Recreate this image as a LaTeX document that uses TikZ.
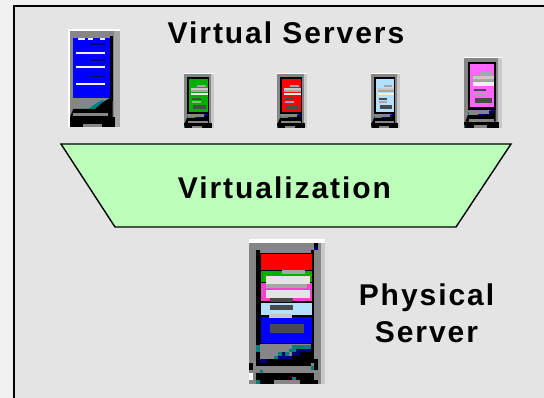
\documentclass[tikz,border=0pt]{standalone}
\usepackage{fontspec}
\setmainfont{Liberation Sans}[Scale=1]
\definecolor{panel}{HTML}{E4E4E4}
\definecolor{margin}{HTML}{F0F0F0}
\definecolor{trap}{HTML}{BBFFBB}
\definecolor{srvgray}{HTML}{868686}
\definecolor{srvlight}{HTML}{C8C8C8}
\definecolor{srvbar}{HTML}{A6A6A6}
\definecolor{srvdark}{HTML}{4A4A4A}
\definecolor{srvteal}{HTML}{007F7F}
\definecolor{srvnavy}{HTML}{00007F}
\definecolor{sgreen}{HTML}{00B000}
\definecolor{sblue}{HTML}{B4E0FF}
\definecolor{spink}{HTML}{FF66FF}
\definecolor{ppink}{HTML}{FF40C8}
\tikzset{
  x=1pt,y=-1pt,
  lbl/.style={font=\fontsize{30}{37}\selectfont\bfseries\addfontfeature{LetterSpace=6.5},text=black,align=center,inner sep=0pt},
}
\newcommand{\zr}[5]{\fill[#5] (#1,#2) rectangle (#3,#4);}
% small server, template 90 x 164 (3x reference pixels): #1 x, #2 y, #3 scale x, #4 scale y, #5 screen colour
\newcommand{\smallsrv}[5]{%
\begin{scope}[shift={(#1,#2)},x=#3pt,y=-#4pt]
\zr{0}{0}{90}{3}{white}
\zr{0}{3}{80}{164}{srvgray}
\zr{80}{3}{90}{164}{srvlight}
\zr{9}{12}{75}{122}{black}
\zr{15}{17}{72}{116}{#5}
\zr{39}{35}{66}{41}{srvbar}
\zr{21}{44}{72}{50}{srvlight}
\zr{21}{50}{72}{56}{srvbar}
\zr{21}{59}{72}{67}{margin}
\zr{24}{74}{51}{80}{srvdark}
\zr{24}{83}{51}{89}{srvbar}
\zr{27}{95}{66}{107}{srvdark}
\fill[black] (75,122) -- (75,150) -- (3,150) -- (9,135) -- (45,135) -- (72,122) -- cycle;
\fill[srvnavy] (30,135) -- (48,128) -- (72,122) -- (72,128) -- (45,137) -- cycle;
\zr{12}{122}{60}{133}{srvgray}
\zr{12}{143}{72}{150}{srvgray}
\zr{0}{150}{84}{158}{black}
\zr{0}{158}{24}{164}{black}
\zr{24}{158}{55}{164}{srvgray}
\zr{55}{158}{84}{164}{black}
\zr{9}{128}{12}{135}{srvteal}
\zr{0}{158}{3}{164}{srvteal}
\end{scope}}
\begin{document}
\begin{tikzpicture}
\useasboundingbox (0,0) rectangle (544,398);
\fill[margin] (0,0) rectangle (544,398);
\fill[panel] (13.5,6.5) rectangle (544,398);
\draw[black,line width=2pt] (13.5,398) -- (13.5,6.5) -- (544,6.5);
\node[lbl] (vs) at (286,33) {Virtual Servers};
\draw[fill=trap,draw=black,line width=1.4pt,line join=miter] (61,144) -- (511,144) -- (456,227) -- (115,227) -- cycle;
\node[lbl] (virt) at (284.5,188) {Virtualization};
\node[lbl] (ps) at (426.5,313) {Physical\\Server};
% small servers
\smallsrv{184}{73}{0.3333}{0.3333}{sgreen}
\smallsrv{277}{73}{0.3333}{0.3333}{red}
\smallsrv{371}{73}{0.3222}{0.3333}{sblue}
\smallsrv{464}{57}{0.4222}{0.4309}{spink}
% big blue server
\begin{scope}[shift={(68.3,29)},x=0.3333pt,y=-0.3333pt]
\zr{0}{0}{155}{293}{white}
\zr{6}{6}{138}{293}{srvgray}
\zr{138}{6}{155}{293}{srvbar}
\zr{13}{27}{125}{207}{blue}
\zr{125}{22}{133}{215}{black}
\zr{30}{28}{50}{34}{margin}
\zr{60}{28}{75}{34}{margin}
\zr{95}{28}{110}{34}{margin}
\zr{22}{70}{110}{76}{margin}
\zr{22}{112}{110}{118}{margin}
\zr{22}{162}{110}{168}{margin}
\zr{65}{43}{110}{48}{srvnavy}
\zr{68}{90}{110}{96}{srvnavy}
\zr{68}{140}{110}{145}{srvnavy}
\fill[black] (133,207) -- (133,265) -- (5,265) -- (15,240) -- (70,240) -- (125,207) -- cycle;
\zr{15}{207}{85}{232}{srvgray}
\fill[srvteal] (60,240) -- (85,222) -- (105,212) -- (105,218) -- (80,240) -- cycle;
\zr{5}{265}{140}{285}{black}
\zr{15}{252}{120}{262}{srvgray}
\zr{5}{285}{45}{293}{black}
\zr{100}{285}{140}{293}{black}
\end{scope}
% physical server
\begin{scope}[shift={(235,235)},x=0.3333pt,y=-0.3333pt]
\zr{42}{12}{270}{24}{white}
\zr{42}{24}{258}{447}{srvgray}
\zr{258}{24}{270}{447}{srvlight}
\zr{237}{24}{249}{36}{black}
\zr{237}{36}{249}{45}{srvnavy}
\zr{63}{45}{75}{384}{black}
\zr{228}{45}{237}{384}{black}
\zr{75}{54}{234}{328}{black}
\zr{77}{57}{232}{105}{red}
\zr{77}{108}{232}{141}{sgreen}
\zr{77}{144}{232}{198}{ppink}
\zr{77}{204}{232}{241}{sblue}
\zr{77}{245}{232}{324}{blue}
\zr{141}{105}{210}{117}{srvbar}
\zr{93}{123}{225}{147}{panel}
\zr{93}{147}{216}{159}{srvbar}
\zr{93}{165}{225}{189}{panel}
\zr{105}{189}{174}{200}{srvdark}
\zr{105}{210}{174}{225}{srvdark}
\zr{102}{237}{171}{249}{srvlight}
\zr{105}{267}{207}{294}{srvdark}
\zr{75}{328}{228}{372}{srvgray}
\zr{63}{330}{75}{351}{srvteal}
\zr{171}{330}{228}{342}{srvteal}
\zr{162}{342}{183}{351}{srvteal}
\zr{183}{342}{228}{351}{srvnavy}
\zr{171}{351}{237}{372}{black}
\zr{171}{351}{195}{363}{srvnavy}
\zr{129}{351}{141}{363}{srvteal}
\zr{141}{351}{150}{363}{srvnavy}
\zr{150}{351}{162}{363}{srvteal}
\zr{117}{363}{129}{372}{srvteal}
\zr{129}{363}{171}{372}{srvnavy}
\zr{63}{372}{249}{393}{black}
\zr{75}{372}{96}{384}{srvnavy}
\zr{228}{384}{237}{393}{srvgray}
\zr{42}{384}{54}{405}{black}
\zr{54}{384}{63}{414}{srvgray}
\zr{54}{393}{228}{414}{srvgray}
\zr{228}{393}{237}{405}{srvteal}
\zr{237}{393}{249}{405}{black}
\zr{75}{405}{84}{414}{srvteal}
\zr{63}{414}{237}{435}{black}
\zr{42}{414}{54}{435}{white}
\zr{63}{435}{75}{447}{srvteal}
\zr{75}{435}{117}{447}{black}
\zr{117}{435}{195}{447}{srvgray}
\zr{195}{435}{249}{447}{black}
\zr{171}{426}{183}{435}{srvteal}
\end{scope}
\end{tikzpicture}
\end{document}
